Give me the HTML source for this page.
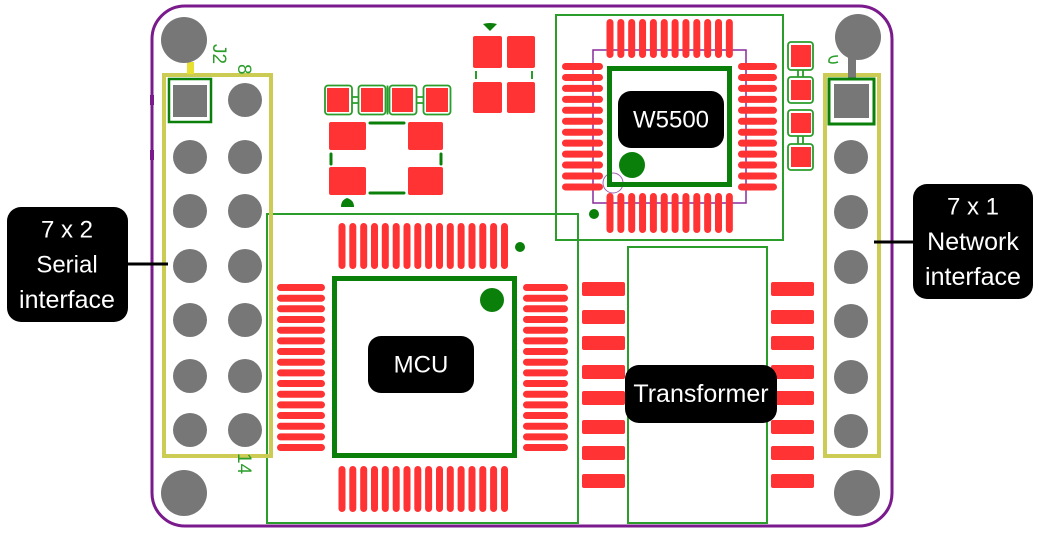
<!DOCTYPE html>
<html><head><meta charset="utf-8"><style>
html,body{margin:0;padding:0;background:#fff;}
svg{display:block;}
text{font-family:"Liberation Sans",sans-serif;}
</style></head><body>
<svg width="1039" height="534" viewBox="0 0 1039 534" xmlns="http://www.w3.org/2000/svg">
<rect width="1039" height="534" fill="#fff"/>

<!-- board outline -->
<path d="M185,6 H859 A33,33 0 0 1 892,39 V493 A33,33 0 0 1 859,526 H185 A33,33 0 0 1 152,493 V39 A33,33 0 0 1 185,6 Z" fill="none" stroke="#7a1a8c" stroke-width="3"/>
<rect x="150" y="95" width="4" height="10" fill="#7a1a8c"/>
<rect x="150" y="150" width="4" height="10" fill="#7a1a8c"/>

<!-- green silkscreen rects -->
<g fill="none" stroke="#2a9d2a" stroke-width="2">
<rect x="556" y="15" width="227" height="225"/>
<rect x="267" y="214" width="311" height="309"/>
<rect x="628" y="247" width="139" height="276"/>
</g>

<!-- W5500 purple outline -->
<rect x="593" y="50" width="153" height="153" fill="none" stroke="#8a2a9c" stroke-width="1.5"/>
<circle cx="613" cy="183" r="10" fill="none" stroke="#a060b0" stroke-width="1"/>

<!-- W5500 pins -->
<g fill="#ff3333">
<rect x="606.5" y="19" width="7" height="39" rx="3.5"/><rect x="617.35" y="19" width="7" height="39" rx="3.5"/><rect x="628.2" y="19" width="7" height="39" rx="3.5"/><rect x="639.05" y="19" width="7" height="39" rx="3.5"/><rect x="649.9" y="19" width="7" height="39" rx="3.5"/><rect x="660.75" y="19" width="7" height="39" rx="3.5"/><rect x="671.6" y="19" width="7" height="39" rx="3.5"/><rect x="682.45" y="19" width="7" height="39" rx="3.5"/><rect x="693.3" y="19" width="7" height="39" rx="3.5"/><rect x="704.15" y="19" width="7" height="39" rx="3.5"/><rect x="715" y="19" width="7" height="39" rx="3.5"/><rect x="725.85" y="19" width="7" height="39" rx="3.5"/>
<rect x="606.5" y="193" width="7" height="40" rx="3.5"/><rect x="617.35" y="193" width="7" height="40" rx="3.5"/><rect x="628.2" y="193" width="7" height="40" rx="3.5"/><rect x="639.05" y="193" width="7" height="40" rx="3.5"/><rect x="649.9" y="193" width="7" height="40" rx="3.5"/><rect x="660.75" y="193" width="7" height="40" rx="3.5"/><rect x="671.6" y="193" width="7" height="40" rx="3.5"/><rect x="682.45" y="193" width="7" height="40" rx="3.5"/><rect x="693.3" y="193" width="7" height="40" rx="3.5"/><rect x="704.15" y="193" width="7" height="40" rx="3.5"/><rect x="715" y="193" width="7" height="40" rx="3.5"/><rect x="725.85" y="193" width="7" height="40" rx="3.5"/>
<rect x="562" y="63" width="41" height="7" rx="3.5"/><rect x="562" y="73.95" width="41" height="7" rx="3.5"/><rect x="562" y="84.9" width="41" height="7" rx="3.5"/><rect x="562" y="95.85" width="41" height="7" rx="3.5"/><rect x="562" y="106.8" width="41" height="7" rx="3.5"/><rect x="562" y="117.75" width="41" height="7" rx="3.5"/><rect x="562" y="128.7" width="41" height="7" rx="3.5"/><rect x="562" y="139.65" width="41" height="7" rx="3.5"/><rect x="562" y="150.6" width="41" height="7" rx="3.5"/><rect x="562" y="161.55" width="41" height="7" rx="3.5"/><rect x="562" y="172.5" width="41" height="7" rx="3.5"/><rect x="562" y="183.45" width="41" height="7" rx="3.5"/>
<rect x="738" y="63" width="39" height="7" rx="3.5"/><rect x="738" y="73.95" width="39" height="7" rx="3.5"/><rect x="738" y="84.9" width="39" height="7" rx="3.5"/><rect x="738" y="95.85" width="39" height="7" rx="3.5"/><rect x="738" y="106.8" width="39" height="7" rx="3.5"/><rect x="738" y="117.75" width="39" height="7" rx="3.5"/><rect x="738" y="128.7" width="39" height="7" rx="3.5"/><rect x="738" y="139.65" width="39" height="7" rx="3.5"/><rect x="738" y="150.6" width="39" height="7" rx="3.5"/><rect x="738" y="161.55" width="39" height="7" rx="3.5"/><rect x="738" y="172.5" width="39" height="7" rx="3.5"/><rect x="738" y="183.45" width="39" height="7" rx="3.5"/>
</g>
<rect x="609.5" y="68.5" width="120" height="116" fill="none" stroke="#0a7f0a" stroke-width="5"/>
<circle cx="632" cy="165" r="13" fill="#0a7f0a"/>
<circle cx="594" cy="214" r="5" fill="#0a7f0a"/>

<!-- MCU pins -->
<g fill="#ff3333">
<rect x="338.5" y="223" width="7" height="46" rx="3.5"/><rect x="349.3" y="223" width="7" height="46" rx="3.5"/><rect x="360.2" y="223" width="7" height="46" rx="3.5"/><rect x="371" y="223" width="7" height="46" rx="3.5"/><rect x="381.8" y="223" width="7" height="46" rx="3.5"/><rect x="392.7" y="223" width="7" height="46" rx="3.5"/><rect x="403.5" y="223" width="7" height="46" rx="3.5"/><rect x="414.3" y="223" width="7" height="46" rx="3.5"/><rect x="425.1" y="223" width="7" height="46" rx="3.5"/><rect x="436" y="223" width="7" height="46" rx="3.5"/><rect x="446.8" y="223" width="7" height="46" rx="3.5"/><rect x="457.6" y="223" width="7" height="46" rx="3.5"/><rect x="468.5" y="223" width="7" height="46" rx="3.5"/><rect x="479.3" y="223" width="7" height="46" rx="3.5"/><rect x="490.1" y="223" width="7" height="46" rx="3.5"/><rect x="501" y="223" width="7" height="46" rx="3.5"/>
<rect x="338.5" y="466" width="7" height="46" rx="3.5"/><rect x="349.3" y="466" width="7" height="46" rx="3.5"/><rect x="360.2" y="466" width="7" height="46" rx="3.5"/><rect x="371" y="466" width="7" height="46" rx="3.5"/><rect x="381.8" y="466" width="7" height="46" rx="3.5"/><rect x="392.7" y="466" width="7" height="46" rx="3.5"/><rect x="403.5" y="466" width="7" height="46" rx="3.5"/><rect x="414.3" y="466" width="7" height="46" rx="3.5"/><rect x="425.1" y="466" width="7" height="46" rx="3.5"/><rect x="436" y="466" width="7" height="46" rx="3.5"/><rect x="446.8" y="466" width="7" height="46" rx="3.5"/><rect x="457.6" y="466" width="7" height="46" rx="3.5"/><rect x="468.5" y="466" width="7" height="46" rx="3.5"/><rect x="479.3" y="466" width="7" height="46" rx="3.5"/><rect x="490.1" y="466" width="7" height="46" rx="3.5"/><rect x="501" y="466" width="7" height="46" rx="3.5"/>
<rect x="277" y="284" width="48" height="7" rx="3.5"/><rect x="277" y="294.7" width="48" height="7" rx="3.5"/><rect x="277" y="305.3" width="48" height="7" rx="3.5"/><rect x="277" y="316" width="48" height="7" rx="3.5"/><rect x="277" y="326.7" width="48" height="7" rx="3.5"/><rect x="277" y="337.4" width="48" height="7" rx="3.5"/><rect x="277" y="348" width="48" height="7" rx="3.5"/><rect x="277" y="358.7" width="48" height="7" rx="3.5"/><rect x="277" y="369.4" width="48" height="7" rx="3.5"/><rect x="277" y="380" width="48" height="7" rx="3.5"/><rect x="277" y="390.7" width="48" height="7" rx="3.5"/><rect x="277" y="401.4" width="48" height="7" rx="3.5"/><rect x="277" y="412" width="48" height="7" rx="3.5"/><rect x="277" y="422.7" width="48" height="7" rx="3.5"/><rect x="277" y="433.4" width="48" height="7" rx="3.5"/><rect x="277" y="444" width="48" height="7" rx="3.5"/>
<rect x="523" y="284" width="45" height="7" rx="3.5"/><rect x="523" y="294.7" width="45" height="7" rx="3.5"/><rect x="523" y="305.3" width="45" height="7" rx="3.5"/><rect x="523" y="316" width="45" height="7" rx="3.5"/><rect x="523" y="326.7" width="45" height="7" rx="3.5"/><rect x="523" y="337.4" width="45" height="7" rx="3.5"/><rect x="523" y="348" width="45" height="7" rx="3.5"/><rect x="523" y="358.7" width="45" height="7" rx="3.5"/><rect x="523" y="369.4" width="45" height="7" rx="3.5"/><rect x="523" y="380" width="45" height="7" rx="3.5"/><rect x="523" y="390.7" width="45" height="7" rx="3.5"/><rect x="523" y="401.4" width="45" height="7" rx="3.5"/><rect x="523" y="412" width="45" height="7" rx="3.5"/><rect x="523" y="422.7" width="45" height="7" rx="3.5"/><rect x="523" y="433.4" width="45" height="7" rx="3.5"/><rect x="523" y="444" width="45" height="7" rx="3.5"/>
</g>
<rect x="334.5" y="278.5" width="180" height="177" fill="none" stroke="#0a7f0a" stroke-width="5"/>
<circle cx="492" cy="300" r="12" fill="#0a7f0a"/>
<circle cx="520" cy="247" r="5" fill="#0a7f0a"/>

<!-- transformer pads -->
<g fill="#ff3333">
<rect x="582" y="282" width="43" height="14" rx="2"/><rect x="582" y="310" width="43" height="14" rx="2"/><rect x="582" y="336" width="43" height="14" rx="2"/><rect x="582" y="365" width="43" height="14" rx="2"/><rect x="582" y="391" width="43" height="14" rx="2"/><rect x="582" y="420" width="43" height="14" rx="2"/><rect x="582" y="446" width="43" height="14" rx="2"/><rect x="582" y="474" width="43" height="14" rx="2"/>
<rect x="771" y="282" width="43" height="14" rx="2"/><rect x="771" y="310" width="43" height="14" rx="2"/><rect x="771" y="336" width="43" height="14" rx="2"/><rect x="771" y="365" width="43" height="14" rx="2"/><rect x="771" y="391" width="43" height="14" rx="2"/><rect x="771" y="420" width="43" height="14" rx="2"/><rect x="771" y="446" width="43" height="14" rx="2"/><rect x="771" y="474" width="43" height="14" rx="2"/>
</g>

<!-- resistor array -->
<g fill="none" stroke="#2a9d2a" stroke-width="1.8">
<rect x="325" y="85.5" width="27" height="29" rx="3"/>
<rect x="358.5" y="85.5" width="27" height="29" rx="3"/>
<rect x="389.5" y="85.5" width="27" height="29" rx="3"/>
<rect x="423.5" y="85.5" width="27" height="29" rx="3"/>
<path d="M352,97 H358.5 M352,103 H358.5 M416.5,97 H423.5 M416.5,103 H423.5 M387.5,85.5 V114.5"/>
</g>
<g fill="#ff3333">
<rect x="327" y="88" width="22" height="24"/>
<rect x="361" y="88" width="22" height="24"/>
<rect x="392" y="88" width="21" height="24"/>
<rect x="426" y="88" width="22" height="24"/>
<rect x="329" y="122" width="37" height="28" rx="2"/>
<rect x="408" y="122" width="35" height="28" rx="2"/>
<rect x="329" y="167" width="37" height="28" rx="2"/>
<rect x="408" y="167" width="35" height="28" rx="2"/>
<!-- near W5500 top-left -->
<rect x="473" y="36" width="29" height="32" rx="2"/>
<rect x="507" y="36" width="28" height="32" rx="2"/>
<rect x="473" y="82" width="29" height="31" rx="2"/>
<rect x="507" y="82" width="28" height="31" rx="2"/>
</g>
<g stroke="#0a7f0a" stroke-width="3" stroke-linecap="round">
<line x1="370" y1="123" x2="404" y2="123"/>
<line x1="370" y1="193" x2="404" y2="193"/>
<line x1="331" y1="154" x2="331" y2="164"/>
<line x1="441" y1="154" x2="441" y2="164"/>
</g>
<g stroke="#2a9d2a" stroke-width="2">
<line x1="476" y1="71" x2="476" y2="79"/>
<line x1="532" y1="71" x2="532" y2="79"/>
</g>
<path d="M483,24 Q490,22 497,24 L490,31 Z" fill="#0a7f0a"/>
<path d="M341,207 Q341,200 347,198 Q354,200 354,207 Z" fill="#0a7f0a"/>

<!-- right small pads -->
<g fill="none" stroke="#2a9d2a" stroke-width="1.8">
<rect x="788" y="42" width="25" height="28" rx="3"/>
<rect x="788" y="77" width="25" height="26" rx="3"/>
<rect x="788" y="110" width="25" height="26" rx="3"/>
<rect x="788" y="144" width="25" height="26" rx="3"/>
<path d="M798,70 V77 M803,70 V77 M798,136 V144 M803,136 V144"/>
</g>
<g fill="#ff3333">
<rect x="791" y="45" width="20" height="22"/>
<rect x="791" y="80" width="20" height="20"/>
<rect x="791" y="113" width="20" height="20"/>
<rect x="791" y="147" width="20" height="20"/>
</g>

<!-- left header -->
<rect x="164" y="75" width="107" height="381" fill="none" stroke="#cccc55" stroke-width="4"/>
<rect x="187" y="62" width="7" height="12" fill="#e8e030"/>
<rect x="169" y="79" width="42" height="43" fill="none" stroke="#0a7f0a" stroke-width="2.5"/>
<rect x="173" y="85" width="34" height="32" fill="#777"/>
<g fill="#777">
<circle cx="245" cy="100" r="17"/>
<circle cx="190" cy="157" r="17"/><circle cx="245" cy="157" r="17"/>
<circle cx="190" cy="211" r="17"/><circle cx="245" cy="211" r="17"/>
<circle cx="190" cy="266" r="17"/><circle cx="245" cy="266" r="17"/>
<circle cx="190" cy="320" r="17"/><circle cx="245" cy="320" r="17"/>
<circle cx="190" cy="376" r="17"/><circle cx="245" cy="376" r="17"/>
<circle cx="190" cy="430" r="17"/><circle cx="245" cy="430" r="17"/>
</g>
<text x="0" y="0" transform="translate(213,44) rotate(90)" font-size="19" fill="#2a9d2a">J2</text>
<text x="0" y="0" transform="translate(238,64) rotate(90)" font-size="19" fill="#2a9d2a">8</text>
<text x="0" y="0" transform="translate(238,453) rotate(90)" font-size="19" fill="#2a9d2a">14</text>

<!-- right header -->
<rect x="825" y="75" width="54" height="381" fill="none" stroke="#cccc55" stroke-width="4"/>
<rect x="848" y="56" width="8" height="22" fill="#777"/>
<path d="M838,56 Q828,56 829,62 Q832,64 838,62" fill="none" stroke="#2a9d2a" stroke-width="1.5"/>
<rect x="829" y="79" width="45" height="45" fill="none" stroke="#0a7f0a" stroke-width="3"/>
<rect x="834" y="84" width="35" height="34" fill="#777"/>
<g fill="#777">
<circle cx="851" cy="157" r="17"/>
<circle cx="851" cy="212" r="17"/>
<circle cx="851" cy="267" r="17"/>
<circle cx="851" cy="321" r="17"/>
<circle cx="851" cy="377" r="17"/>
<circle cx="851" cy="431" r="17"/>
</g>

<!-- mounting holes -->
<g fill="#777">
<circle cx="184" cy="40" r="23"/>
<circle cx="858" cy="37" r="23"/>
<circle cx="184" cy="493" r="23"/>
<circle cx="857" cy="493" r="23"/>
</g>

<!-- connectors -->
<line x1="128" y1="264" x2="168" y2="264" stroke="#000" stroke-width="3"/>
<line x1="874" y1="242" x2="913" y2="242" stroke="#000" stroke-width="3"/>

<!-- labels -->
<g fill="#000">
<rect x="618" y="91" width="106" height="57" rx="13"/>
<rect x="368" y="336" width="106" height="57" rx="13"/>
<rect x="625" y="365" width="152" height="58" rx="14"/>
<rect x="7" y="207" width="121" height="115" rx="14"/>
<rect x="913" y="184" width="120" height="115" rx="14"/>
</g>
<g fill="#fff" text-anchor="middle" dominant-baseline="central" font-size="24">
<text x="671" y="120">W5500</text>
<text x="421" y="365">MCU</text>
<text x="701" y="394" font-size="25">Transformer</text>
<text x="67" y="230">7 x 2</text>
<text x="67" y="265">Serial</text>
<text x="67" y="300" font-size="25">interface</text>
<text x="973" y="207">7 x 1</text>
<text x="973" y="242" font-size="25">Network</text>
<text x="973" y="277" font-size="25">interface</text>
</g>
</svg>
</body></html>
